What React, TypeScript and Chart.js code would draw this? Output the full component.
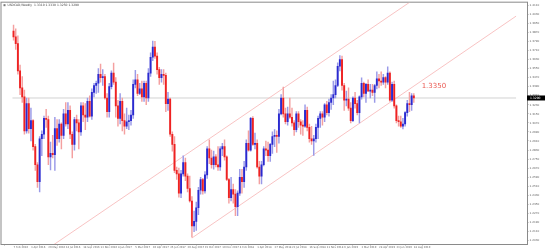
import React, { useEffect, useRef } from 'react';
import { Chart, registerables } from 'chart.js';

Chart.register(...registerables);

const symbolTitle = 'USDCAD,Weekly';

// weekly candles, first week = 7 Feb 2016
const opens = [
  1.3880, 1.3830, 1.3770, 1.3530, 1.3380, 1.3300, 1.3000, 1.3240, 1.3020, 1.3090,
  1.2860, 1.2700, 1.2550, 1.2930, 1.2970, 1.3110, 1.3100, 1.2770, 1.2800, 1.2790,
  1.3020, 1.2930, 1.3060, 1.2960, 1.3150, 1.3060, 1.3180, 1.2970, 1.2880, 1.3100,
  1.3070, 1.2990, 1.3220, 1.3140, 1.3120, 1.3260, 1.3130, 1.3340, 1.3400, 1.3420,
  1.3500, 1.3470, 1.3480, 1.3290, 1.3170, 1.3390, 1.3510, 1.3430, 1.3220, 1.3110,
  1.3260, 1.3090, 1.3040, 1.3080, 1.3090, 1.3140, 1.3410, 1.3450, 1.3330, 1.3370,
  1.3300, 1.3420, 1.3290, 1.3510, 1.3650, 1.3740, 1.3660, 1.3540, 1.3470, 1.3500,
  1.3490, 1.3240, 1.3280, 1.2970, 1.2880, 1.2650, 1.2620, 1.2450, 1.2620, 1.2720,
  1.2600, 1.2490, 1.2380, 1.2160, 1.2200, 1.2320, 1.2475, 1.2570, 1.2470, 1.2610,
  1.2840, 1.2760, 1.2700, 1.2770, 1.2700, 1.2680, 1.2840, 1.2860, 1.2770, 1.2570,
  1.2410, 1.2480, 1.2440, 1.2330, 1.2450, 1.2590, 1.2550, 1.2680, 1.2890, 1.2830,
  1.3110, 1.2880, 1.2890, 1.2680, 1.2600, 1.2700, 1.2840, 1.2830, 1.2780, 1.2880,
  1.2950, 1.2960, 1.2950, 1.3150, 1.3290, 1.3150, 1.3080, 1.3150, 1.3120, 1.3070,
  1.3010, 1.3150, 1.3080, 1.3050, 1.3040, 1.3180, 1.3030, 1.2930, 1.2910, 1.2930,
  1.3030, 1.3110, 1.3150, 1.3120, 1.3230, 1.3160, 1.3250, 1.3290, 1.3320, 1.3400,
  1.3570, 1.3630, 1.3400, 1.3270, 1.3280, 1.3200, 1.3090, 1.3290, 1.3240, 1.3160,
  1.3300, 1.3420, 1.3330, 1.3410, 1.3350, 1.3360, 1.3340, 1.3400, 1.3460, 1.3440,
  1.3430, 1.3470, 1.3430, 1.3510, 1.3270, 1.3410, 1.3220, 1.3090, 1.3080, 1.3040,
  1.3060, 1.3160, 1.3240, 1.3230, 1.3310,
];
const highs = [
  1.3935, 1.3900, 1.3840, 1.3580, 1.3480, 1.3360, 1.3290, 1.3290, 1.3200, 1.3100,
  1.2880, 1.2720, 1.2950, 1.3000, 1.3130, 1.3190, 1.3130, 1.2900, 1.2960, 1.3120,
  1.3100, 1.3100, 1.3070, 1.3190, 1.3250, 1.3250, 1.3220, 1.2990, 1.3120, 1.3140,
  1.3100, 1.3250, 1.3250, 1.3240, 1.3290, 1.3310, 1.3370, 1.3420, 1.3440, 1.3550,
  1.3590, 1.3540, 1.3500, 1.3330, 1.3420, 1.3530, 1.3598, 1.3470, 1.3270, 1.3330,
  1.3290, 1.3150, 1.3200, 1.3140, 1.3180, 1.3450, 1.3535, 1.3500, 1.3420, 1.3440,
  1.3440, 1.3440, 1.3550, 1.3690, 1.3793, 1.3790, 1.3690, 1.3560, 1.3540, 1.3540,
  1.3510, 1.3340, 1.3290, 1.2990, 1.2950, 1.2680, 1.2670, 1.2650, 1.2780, 1.2760,
  1.2620, 1.2600, 1.2420, 1.2290, 1.2370, 1.2500, 1.2590, 1.2580, 1.2640, 1.2860,
  1.2920, 1.2830, 1.2820, 1.2790, 1.2860, 1.2860, 1.2890, 1.2920, 1.2780, 1.2580,
  1.2590, 1.2530, 1.2480, 1.2470, 1.2660, 1.2660, 1.2730, 1.2920, 1.3000, 1.3120,
  1.3125, 1.2980, 1.2920, 1.2730, 1.2730, 1.2860, 1.2910, 1.2900, 1.2890, 1.2990,
  1.3010, 1.3000, 1.3190, 1.3320, 1.3386, 1.3200, 1.3210, 1.3290, 1.3200, 1.3090,
  1.3170, 1.3170, 1.3100, 1.3090, 1.3230, 1.3210, 1.3060, 1.3040, 1.2960, 1.3060,
  1.3130, 1.3170, 1.3170, 1.3240, 1.3260, 1.3280, 1.3320, 1.3440, 1.3450, 1.3600,
  1.3665, 1.3660, 1.3420, 1.3350, 1.3380, 1.3250, 1.3300, 1.3340, 1.3270, 1.3310,
  1.3467, 1.3430, 1.3420, 1.3450, 1.3410, 1.3410, 1.3410, 1.3520, 1.3500, 1.3520,
  1.3500, 1.3480, 1.3565, 1.3520, 1.3430, 1.3440, 1.3230, 1.3130, 1.3130, 1.3110,
  1.3170, 1.3270, 1.3340, 1.3330, 1.3330,
];
const lows = [
  1.3800, 1.3720, 1.3500, 1.3320, 1.3250, 1.2970, 1.2980, 1.2980, 1.2910, 1.2830,
  1.2650, 1.2500, 1.2461, 1.2780, 1.2930, 1.3030, 1.2700, 1.2655, 1.2760, 1.2650,
  1.2870, 1.2900, 1.2840, 1.2930, 1.3040, 1.3020, 1.2930, 1.2760, 1.2830, 1.3000,
  1.2840, 1.2960, 1.3080, 1.3010, 1.3080, 1.3120, 1.3100, 1.3300, 1.3330, 1.3340,
  1.3430, 1.3400, 1.3280, 1.3120, 1.3120, 1.3370, 1.3410, 1.3120, 1.3040, 1.3060,
  1.3000, 1.2970, 1.3020, 1.3010, 1.3050, 1.3110, 1.3380, 1.3310, 1.3320, 1.3260,
  1.3260, 1.3230, 1.3260, 1.3480, 1.3620, 1.3640, 1.3500, 1.3410, 1.3430, 1.3410,
  1.3170, 1.3180, 1.2950, 1.2820, 1.2630, 1.2570, 1.2413, 1.2410, 1.2600, 1.2560,
  1.2460, 1.2370, 1.2061, 1.2110, 1.2120, 1.2260, 1.2440, 1.2440, 1.2450, 1.2580,
  1.2710, 1.2670, 1.2660, 1.2680, 1.2650, 1.2650, 1.2780, 1.2740, 1.2560, 1.2360,
  1.2380, 1.2360, 1.2250, 1.2250, 1.2430, 1.2450, 1.2500, 1.2650, 1.2820, 1.2820,
  1.2870, 1.2840, 1.2670, 1.2530, 1.2530, 1.2690, 1.2780, 1.2730, 1.2730, 1.2800,
  1.2860, 1.2810, 1.2890, 1.3140, 1.3120, 1.3060, 1.3050, 1.3110, 1.3040, 1.2960,
  1.2990, 1.3030, 1.2970, 1.2960, 1.3030, 1.3000, 1.2900, 1.2880, 1.2782, 1.2900,
  1.2930, 1.3030, 1.3050, 1.3080, 1.3140, 1.3130, 1.3190, 1.3230, 1.3290, 1.3390,
  1.3530, 1.3360, 1.3180, 1.3220, 1.3180, 1.3070, 1.3080, 1.3200, 1.3140, 1.3070,
  1.3280, 1.3300, 1.3250, 1.3350, 1.3290, 1.3310, 1.3250, 1.3370, 1.3380, 1.3400,
  1.3410, 1.3380, 1.3410, 1.3260, 1.3260, 1.3200, 1.3070, 1.3040, 1.3030, 1.3016,
  1.3040, 1.3130, 1.3170, 1.3180, 1.3250,
];
const closes = [
  1.3830, 1.3770, 1.3530, 1.3380, 1.3300, 1.3000, 1.3240, 1.3020, 1.3090, 1.2860,
  1.2700, 1.2550, 1.2930, 1.2970, 1.3110, 1.3100, 1.2770, 1.2800, 1.2790, 1.3020,
  1.2930, 1.3060, 1.2960, 1.3150, 1.3060, 1.3180, 1.2970, 1.2880, 1.3100, 1.3070,
  1.2990, 1.3220, 1.3140, 1.3120, 1.3260, 1.3130, 1.3340, 1.3400, 1.3420, 1.3500,
  1.3470, 1.3480, 1.3290, 1.3170, 1.3390, 1.3510, 1.3430, 1.3220, 1.3110, 1.3260,
  1.3090, 1.3040, 1.3080, 1.3090, 1.3140, 1.3410, 1.3450, 1.3330, 1.3370, 1.3300,
  1.3420, 1.3290, 1.3510, 1.3650, 1.3740, 1.3660, 1.3540, 1.3470, 1.3500, 1.3490,
  1.3240, 1.3280, 1.2970, 1.2880, 1.2650, 1.2620, 1.2450, 1.2620, 1.2720, 1.2600,
  1.2490, 1.2380, 1.2160, 1.2200, 1.2320, 1.2475, 1.2570, 1.2470, 1.2610, 1.2840,
  1.2760, 1.2700, 1.2770, 1.2700, 1.2680, 1.2840, 1.2860, 1.2770, 1.2570, 1.2410,
  1.2480, 1.2440, 1.2330, 1.2450, 1.2590, 1.2550, 1.2680, 1.2890, 1.2830, 1.3110,
  1.2880, 1.2890, 1.2680, 1.2600, 1.2700, 1.2840, 1.2830, 1.2780, 1.2880, 1.2950,
  1.2960, 1.2950, 1.3150, 1.3290, 1.3150, 1.3080, 1.3150, 1.3120, 1.3070, 1.3010,
  1.3150, 1.3080, 1.3050, 1.3040, 1.3180, 1.3030, 1.2930, 1.2910, 1.2930, 1.3030,
  1.3110, 1.3150, 1.3120, 1.3230, 1.3160, 1.3250, 1.3290, 1.3320, 1.3400, 1.3570,
  1.3630, 1.3400, 1.3270, 1.3280, 1.3200, 1.3090, 1.3290, 1.3240, 1.3160, 1.3300,
  1.3420, 1.3330, 1.3410, 1.3350, 1.3360, 1.3340, 1.3400, 1.3460, 1.3440, 1.3430,
  1.3470, 1.3430, 1.3510, 1.3270, 1.3410, 1.3220, 1.3090, 1.3080, 1.3040, 1.3060,
  1.3160, 1.3240, 1.3230, 1.3310, 1.3290,
];

// bottom axis labels, one every 8 weeks from the first candle
const dateLabels = [
  '7 Feb 2016', '3 Apr 2016', '29 May 2016', '24 Jul 2016', '18 Sep 2016', '13 Nov 2016',
  '8 Jan 2017', '5 Mar 2017', '30 Apr 2017', '25 Jun 2017', '20 Aug 2017', '15 Oct 2017',
  '10 Dec 2017', '4 Feb 2018', '1 Apr 2018', '27 May 2018', '22 Jul 2018', '16 Sep 2018',
  '11 Nov 2018', '6 Jan 2019', '3 Mar 2019', '28 Apr 2019', '23 Jun 2019', '18 Aug 2019',
];
const weeksPerDateLabel = 8;
const totalWeekSlots = 231;

// right axis labels
const priceTicks = [
  1.4110, 1.4030, 1.3950, 1.3870, 1.3790, 1.3710, 1.3630, 1.3550, 1.3470, 1.3390,
  1.3310, 1.3230, 1.3150, 1.3070, 1.2990, 1.2910, 1.2830, 1.2750, 1.2670, 1.2590,
  1.2510, 1.2430, 1.2350, 1.2270, 1.2190, 1.2110, 1.2030,
];
const priceMin = 1.2000;
const priceMax = 1.4132;

// channel lines: [week index, price]
const channelUpper = [
  { x: 18, y: 1.1988 },
  { x: 185, y: 1.4174 },
];
const channelLower = [
  { x: 82, y: 1.2053 },
  { x: 231, y: 1.4013 },
];
const levelLabel = '1.3350';
const levelPrice = 1.3350;
const levelWeek = 187.6;

const BULL = '#2a2ad0';
const BEAR = '#ee2222';
const BULL_WICK = '#9a9ae8';
const BEAR_WICK = '#f4a0a0';

export default function App() {
  const ref = useRef<HTMLCanvasElement | null>(null);

  useEffect(() => {
    document.body.style.margin = '0';
    const canvas = ref.current;
    if (!canvas) return;
    const n = closes.length;
    const lastClose = closes[n - 1];
    const up = (i: number) => closes[i] >= opens[i];

    const overlay = {
      id: 'mtOverlay',
      beforeDatasetsDraw(chart: any) {
        const { ctx, chartArea } = chart;
        ctx.save();
        ctx.strokeStyle = '#8a8a8a';
        ctx.lineWidth = 1;
        ctx.strokeRect(chartArea.left - 0.5, chartArea.top - 0.5, chartArea.right - chartArea.left + 1, chartArea.bottom - chartArea.top + 1);
        ctx.restore();
      },
      afterDraw(chart: any) {
        const { ctx, chartArea, scales } = chart;
        const ys = scales.y;
        const xs = scales.x;
        ctx.save();
        ctx.fillStyle = '#444';
        ctx.font = '3px "DejaVu Sans", sans-serif';
        ctx.textBaseline = 'top';
        ctx.textAlign = 'left';
        const ohlc = [opens[n - 1], highs[n - 1], lows[n - 1], closes[n - 1]].map((v) => v.toFixed(4)).join(' ');
        ctx.fillText(`${symbolTitle}  ${ohlc}`, chartArea.left + 6, chartArea.top + 1);
        ctx.fillStyle = '#777';
        ctx.fillRect(chartArea.left + 2, chartArea.top + 1.5, 2, 2);
        const py = ys.getPixelForValue(lastClose);
        ctx.fillStyle = '#000';
        ctx.fillRect(chartArea.right, py - 2.5, 18, 5);
        ctx.fillStyle = '#fff';
        ctx.font = '3px "DejaVu Sans", sans-serif';
        ctx.textBaseline = 'middle';
        ctx.fillText(lastClose.toFixed(4), chartArea.right + 3, py);
        ctx.fillStyle = '#ea5a52';
        ctx.font = '7px "DejaVu Sans", sans-serif';
        ctx.textBaseline = 'middle';
        ctx.fillText(levelLabel, xs.getPixelForValue(levelWeek), ys.getPixelForValue(levelPrice) - 5);
        ctx.restore();
      },
    };

    const chart = new Chart(canvas, {
      type: 'bar',
      data: {
        datasets: [
          {
            type: 'bar',
            label: 'body',
            data: opens.map((o, i) => ({ x: i, y: [o, closes[i]] })) as any,
            backgroundColor: opens.map((_, i) => (up(i) ? BULL : BEAR)),
            barThickness: 1.25,
            minBarLength: 0.8,
            grouped: false,
            borderWidth: 0,
            order: 0,
          } as any,
          {
            type: 'bar',
            label: 'wick',
            data: lows.map((l, i) => ({ x: i, y: [l, highs[i]] })) as any,
            backgroundColor: opens.map((_, i) => (up(i) ? BULL_WICK : BEAR_WICK)),
            barThickness: 0.8,
            grouped: false,
            borderWidth: 0,
            order: 1,
          } as any,
          {
            type: 'line',
            label: 'bid',
            data: [
              { x: -0.5, y: lastClose },
              { x: totalWeekSlots, y: lastClose },
            ],
            borderColor: '#d2d2d2',
            borderWidth: 1,
            pointRadius: 0,
            order: 4,
          } as any,
          {
            type: 'line',
            label: 'upper',
            data: channelUpper,
            borderColor: '#f7bcbc',
            borderWidth: 0.9,
            pointRadius: 0,
            order: 3,
          } as any,
          {
            type: 'line',
            label: 'lower',
            data: channelLower,
            borderColor: '#f7bcbc',
            borderWidth: 0.9,
            pointRadius: 0,
            order: 3,
          } as any,
        ],
      },
      options: {
        responsive: false,
        animation: false,
        devicePixelRatio: 1,
        layout: { padding: { top: 2, left: 1.5, right: 0, bottom: 0 } },
        plugins: { legend: { display: false }, tooltip: { enabled: false } },
        scales: {
          x: {
            type: 'linear',
            min: -0.5,
            max: totalWeekSlots,
            grid: { display: true, drawOnChartArea: false, drawTicks: true, tickLength: 1.5, color: '#aaa' },
            border: { display: false },
            afterBuildTicks: (s: any) => {
              s.ticks = dateLabels.map((_, i) => ({ value: i * weeksPerDateLabel }));
            },
            afterFit: (s: any) => {
              s.height = 6;
            },
            ticks: {
              autoSkip: false,
              maxRotation: 0,
              minRotation: 0,
              align: 'start',
              padding: 0.5,
              color: '#666',
              font: { size: 2.6, family: '"DejaVu Sans", sans-serif' },
              callback: (v: any) => dateLabels[Math.round(Number(v) / weeksPerDateLabel)] ?? '',
            },
          },
          y: {
            type: 'linear',
            position: 'right',
            min: priceMin,
            max: priceMax,
            grid: { display: true, drawOnChartArea: false, drawTicks: true, tickLength: 1.5, color: '#aaa' },
            border: { display: false },
            afterBuildTicks: (s: any) => {
              s.ticks = priceTicks.map((v) => ({ value: v }));
            },
            afterFit: (s: any) => {
              s.width = 18;
            },
            ticks: {
              autoSkip: false,
              padding: 1,
              color: '#666',
              font: { size: 2.8, family: '"DejaVu Sans", sans-serif' },
              callback: (v: any) => Number(v).toFixed(4),
            },
          },
        },
      } as any,
      plugins: [overlay],
    });
    return () => chart.destroy();
  }, []);

  return (
    <div style={{ width: 545, height: 250, background: '#fff' }}>
      <canvas ref={ref} width={545} height={250} style={{ display: 'block' }} />
    </div>
  );
}
